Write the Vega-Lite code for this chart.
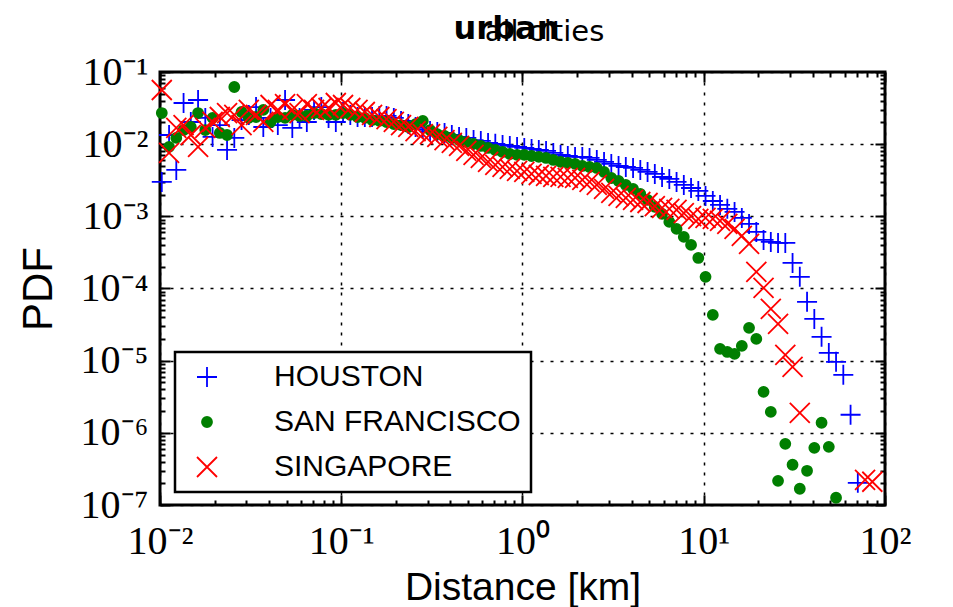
{
  "$schema": "https://vega.github.io/schema/vega-lite/v6.json",
  "width": 725,
  "height": 433,
  "autosize": {"type": "none"},
  "padding": {"left": 160, "top": 72, "right": 68, "bottom": 102},
  "background": "white",
  "title": {
    "text": "urban",
    "anchor": "middle",
    "dx": -16,
    "font": "DejaVu Sans",
    "fontSize": 32,
    "fontWeight": "bold",
    "color": "black",
    "offset": -29
  },
  "config": {
    "view": {"stroke": "black", "strokeWidth": 3},
    "legend": {"strokeWidth": 2.5}
  },
  "data": {
    "values": [
      {"city": "HOUSTON", "distance": 0.01023, "pdf": 3.00e-3},
      {"city": "HOUSTON", "distance": 0.01122, "pdf": 1.34e-2},
      {"city": "HOUSTON", "distance": 0.0123, "pdf": 4.39e-3},
      {"city": "HOUSTON", "distance": 0.01349, "pdf": 3.72e-2},
      {"city": "HOUSTON", "distance": 0.01479, "pdf": 2.03e-2},
      {"city": "HOUSTON", "distance": 0.01622, "pdf": 4.09e-2},
      {"city": "HOUSTON", "distance": 0.01778, "pdf": 2.31e-2},
      {"city": "HOUSTON", "distance": 0.0195, "pdf": 1.26e-2},
      {"city": "HOUSTON", "distance": 0.02138, "pdf": 1.84e-2},
      {"city": "HOUSTON", "distance": 0.02344, "pdf": 8.31e-3},
      {"city": "HOUSTON", "distance": 0.0257, "pdf": 1.22e-2},
      {"city": "HOUSTON", "distance": 0.02818, "pdf": 2.16e-2},
      {"city": "HOUSTON", "distance": 0.0309, "pdf": 2.54e-2},
      {"city": "HOUSTON", "distance": 0.03388, "pdf": 3.27e-2},
      {"city": "HOUSTON", "distance": 0.03715, "pdf": 1.73e-2},
      {"city": "HOUSTON", "distance": 0.04074, "pdf": 2.31e-2},
      {"city": "HOUSTON", "distance": 0.04467, "pdf": 1.84e-2},
      {"city": "HOUSTON", "distance": 0.04898, "pdf": 4.09e-2},
      {"city": "HOUSTON", "distance": 0.0537, "pdf": 1.68e-2},
      {"city": "HOUSTON", "distance": 0.05888, "pdf": 2.31e-2},
      {"city": "HOUSTON", "distance": 0.06457, "pdf": 2.03e-2},
      {"city": "HOUSTON", "distance": 0.07079, "pdf": 2.98e-2},
      {"city": "HOUSTON", "distance": 0.07762, "pdf": 3.27e-2},
      {"city": "HOUSTON", "distance": 0.08511, "pdf": 2.31e-2},
      {"city": "HOUSTON", "distance": 0.09333, "pdf": 2.03e-2},
      {"city": "HOUSTON", "distance": 0.1023, "pdf": 2.79e-2},
      {"city": "HOUSTON", "distance": 0.1122, "pdf": 2.54e-2},
      {"city": "HOUSTON", "distance": 0.123, "pdf": 2.38e-2},
      {"city": "HOUSTON", "distance": 0.1349, "pdf": 2.38e-2},
      {"city": "HOUSTON", "distance": 0.1479, "pdf": 2.38e-2},
      {"city": "HOUSTON", "distance": 0.1622, "pdf": 2.46e-2},
      {"city": "HOUSTON", "distance": 0.1778, "pdf": 2.46e-2},
      {"city": "HOUSTON", "distance": 0.195, "pdf": 2.31e-2},
      {"city": "HOUSTON", "distance": 0.2138, "pdf": 2.10e-2},
      {"city": "HOUSTON", "distance": 0.2344, "pdf": 1.90e-2},
      {"city": "HOUSTON", "distance": 0.257, "pdf": 1.73e-2},
      {"city": "HOUSTON", "distance": 0.2818, "pdf": 1.62e-2},
      {"city": "HOUSTON", "distance": 0.309, "pdf": 1.52e-2},
      {"city": "HOUSTON", "distance": 0.3388, "pdf": 1.48e-2},
      {"city": "HOUSTON", "distance": 0.3715, "pdf": 1.43e-2},
      {"city": "HOUSTON", "distance": 0.4074, "pdf": 1.34e-2},
      {"city": "HOUSTON", "distance": 0.4467, "pdf": 1.26e-2},
      {"city": "HOUSTON", "distance": 0.4898, "pdf": 1.22e-2},
      {"city": "HOUSTON", "distance": 0.537, "pdf": 1.14e-2},
      {"city": "HOUSTON", "distance": 0.5888, "pdf": 1.11e-2},
      {"city": "HOUSTON", "distance": 0.6457, "pdf": 1.04e-2},
      {"city": "HOUSTON", "distance": 0.7079, "pdf": 1.01e-2},
      {"city": "HOUSTON", "distance": 0.7762, "pdf": 9.75e-3},
      {"city": "HOUSTON", "distance": 0.8511, "pdf": 9.44e-3},
      {"city": "HOUSTON", "distance": 0.9333, "pdf": 9.15e-3},
      {"city": "HOUSTON", "distance": 1.023, "pdf": 8.86e-3},
      {"city": "HOUSTON", "distance": 1.122, "pdf": 8.58e-3},
      {"city": "HOUSTON", "distance": 1.23, "pdf": 8.31e-3},
      {"city": "HOUSTON", "distance": 1.349, "pdf": 8.05e-3},
      {"city": "HOUSTON", "distance": 1.479, "pdf": 7.55e-3},
      {"city": "HOUSTON", "distance": 1.622, "pdf": 7.09e-3},
      {"city": "HOUSTON", "distance": 1.778, "pdf": 6.86e-3},
      {"city": "HOUSTON", "distance": 1.95, "pdf": 6.65e-3},
      {"city": "HOUSTON", "distance": 2.138, "pdf": 6.65e-3},
      {"city": "HOUSTON", "distance": 2.344, "pdf": 6.44e-3},
      {"city": "HOUSTON", "distance": 2.57, "pdf": 6.04e-3},
      {"city": "HOUSTON", "distance": 2.818, "pdf": 5.67e-3},
      {"city": "HOUSTON", "distance": 3.09, "pdf": 5.32e-3},
      {"city": "HOUSTON", "distance": 3.388, "pdf": 4.99e-3},
      {"city": "HOUSTON", "distance": 3.715, "pdf": 4.83e-3},
      {"city": "HOUSTON", "distance": 4.074, "pdf": 4.68e-3},
      {"city": "HOUSTON", "distance": 4.467, "pdf": 4.39e-3},
      {"city": "HOUSTON", "distance": 4.898, "pdf": 4.12e-3},
      {"city": "HOUSTON", "distance": 5.37, "pdf": 3.87e-3},
      {"city": "HOUSTON", "distance": 5.888, "pdf": 3.51e-3},
      {"city": "HOUSTON", "distance": 6.457, "pdf": 3.30e-3},
      {"city": "HOUSTON", "distance": 7.079, "pdf": 3.00e-3},
      {"city": "HOUSTON", "distance": 7.762, "pdf": 2.72e-3},
      {"city": "HOUSTON", "distance": 8.511, "pdf": 2.47e-3},
      {"city": "HOUSTON", "distance": 9.333, "pdf": 2.25e-3},
      {"city": "HOUSTON", "distance": 10.23, "pdf": 1.92e-3},
      {"city": "HOUSTON", "distance": 11.22, "pdf": 1.63e-3},
      {"city": "HOUSTON", "distance": 12.3, "pdf": 1.44e-3},
      {"city": "HOUSTON", "distance": 13.49, "pdf": 1.27e-3},
      {"city": "HOUSTON", "distance": 14.79, "pdf": 1.15e-3},
      {"city": "HOUSTON", "distance": 16.22, "pdf": 9.50e-4},
      {"city": "HOUSTON", "distance": 17.78, "pdf": 7.85e-4},
      {"city": "HOUSTON", "distance": 19.5, "pdf": 6.08e-4},
      {"city": "HOUSTON", "distance": 21.38, "pdf": 4.71e-4},
      {"city": "HOUSTON", "distance": 23.44, "pdf": 4.42e-4},
      {"city": "HOUSTON", "distance": 25.7, "pdf": 4.28e-4},
      {"city": "HOUSTON", "distance": 28.18, "pdf": 4.28e-4},
      {"city": "HOUSTON", "distance": 30.9, "pdf": 2.26e-4},
      {"city": "HOUSTON", "distance": 33.88, "pdf": 1.45e-4},
      {"city": "HOUSTON", "distance": 37.15, "pdf": 6.53e-5},
      {"city": "HOUSTON", "distance": 40.74, "pdf": 3.79e-5},
      {"city": "HOUSTON", "distance": 44.67, "pdf": 2.14e-5},
      {"city": "HOUSTON", "distance": 48.98, "pdf": 1.28e-5},
      {"city": "HOUSTON", "distance": 53.7, "pdf": 9.63e-6},
      {"city": "HOUSTON", "distance": 58.88, "pdf": 6.36e-6},
      {"city": "HOUSTON", "distance": 64.57, "pdf": 1.78e-6},
      {"city": "HOUSTON", "distance": 70.79, "pdf": 2.03e-7},

      {"city": "SAN FRANCISCO", "distance": 0.01023, "pdf": 2.70e-2},
      {"city": "SAN FRANCISCO", "distance": 0.01122, "pdf": 9.15e-3},
      {"city": "SAN FRANCISCO", "distance": 0.0123, "pdf": 1.22e-2},
      {"city": "SAN FRANCISCO", "distance": 0.01349, "pdf": 1.57e-2},
      {"city": "SAN FRANCISCO", "distance": 0.01479, "pdf": 1.73e-2},
      {"city": "SAN FRANCISCO", "distance": 0.01622, "pdf": 2.70e-2},
      {"city": "SAN FRANCISCO", "distance": 0.01778, "pdf": 1.57e-2},
      {"city": "SAN FRANCISCO", "distance": 0.0195, "pdf": 2.31e-2},
      {"city": "SAN FRANCISCO", "distance": 0.02138, "pdf": 1.43e-2},
      {"city": "SAN FRANCISCO", "distance": 0.02344, "pdf": 1.34e-2},
      {"city": "SAN FRANCISCO", "distance": 0.0257, "pdf": 6.20e-2},
      {"city": "SAN FRANCISCO", "distance": 0.02818, "pdf": 2.79e-2},
      {"city": "SAN FRANCISCO", "distance": 0.0309, "pdf": 2.31e-2},
      {"city": "SAN FRANCISCO", "distance": 0.03388, "pdf": 2.38e-2},
      {"city": "SAN FRANCISCO", "distance": 0.03715, "pdf": 2.98e-2},
      {"city": "SAN FRANCISCO", "distance": 0.04074, "pdf": 2.03e-2},
      {"city": "SAN FRANCISCO", "distance": 0.04467, "pdf": 2.38e-2},
      {"city": "SAN FRANCISCO", "distance": 0.04898, "pdf": 2.31e-2},
      {"city": "SAN FRANCISCO", "distance": 0.0537, "pdf": 2.54e-2},
      {"city": "SAN FRANCISCO", "distance": 0.05888, "pdf": 2.46e-2},
      {"city": "SAN FRANCISCO", "distance": 0.06457, "pdf": 2.46e-2},
      {"city": "SAN FRANCISCO", "distance": 0.07079, "pdf": 2.70e-2},
      {"city": "SAN FRANCISCO", "distance": 0.07762, "pdf": 2.62e-2},
      {"city": "SAN FRANCISCO", "distance": 0.08511, "pdf": 2.54e-2},
      {"city": "SAN FRANCISCO", "distance": 0.09333, "pdf": 2.54e-2},
      {"city": "SAN FRANCISCO", "distance": 0.1023, "pdf": 2.70e-2},
      {"city": "SAN FRANCISCO", "distance": 0.1122, "pdf": 2.54e-2},
      {"city": "SAN FRANCISCO", "distance": 0.123, "pdf": 2.38e-2},
      {"city": "SAN FRANCISCO", "distance": 0.1349, "pdf": 2.31e-2},
      {"city": "SAN FRANCISCO", "distance": 0.1479, "pdf": 2.16e-2},
      {"city": "SAN FRANCISCO", "distance": 0.1622, "pdf": 2.10e-2},
      {"city": "SAN FRANCISCO", "distance": 0.1778, "pdf": 2.03e-2},
      {"city": "SAN FRANCISCO", "distance": 0.195, "pdf": 1.90e-2},
      {"city": "SAN FRANCISCO", "distance": 0.2138, "pdf": 1.84e-2},
      {"city": "SAN FRANCISCO", "distance": 0.2344, "pdf": 1.73e-2},
      {"city": "SAN FRANCISCO", "distance": 0.257, "pdf": 1.90e-2},
      {"city": "SAN FRANCISCO", "distance": 0.2818, "pdf": 2.10e-2},
      {"city": "SAN FRANCISCO", "distance": 0.309, "pdf": 1.57e-2},
      {"city": "SAN FRANCISCO", "distance": 0.3388, "pdf": 1.38e-2},
      {"city": "SAN FRANCISCO", "distance": 0.3715, "pdf": 1.30e-2},
      {"city": "SAN FRANCISCO", "distance": 0.4074, "pdf": 1.22e-2},
      {"city": "SAN FRANCISCO", "distance": 0.4467, "pdf": 1.14e-2},
      {"city": "SAN FRANCISCO", "distance": 0.4898, "pdf": 1.07e-2},
      {"city": "SAN FRANCISCO", "distance": 0.537, "pdf": 1.01e-2},
      {"city": "SAN FRANCISCO", "distance": 0.5888, "pdf": 9.44e-3},
      {"city": "SAN FRANCISCO", "distance": 0.6457, "pdf": 8.86e-3},
      {"city": "SAN FRANCISCO", "distance": 0.7079, "pdf": 8.31e-3},
      {"city": "SAN FRANCISCO", "distance": 0.7762, "pdf": 7.80e-3},
      {"city": "SAN FRANCISCO", "distance": 0.8511, "pdf": 7.31e-3},
      {"city": "SAN FRANCISCO", "distance": 0.9333, "pdf": 7.09e-3},
      {"city": "SAN FRANCISCO", "distance": 1.023, "pdf": 7.09e-3},
      {"city": "SAN FRANCISCO", "distance": 1.122, "pdf": 6.86e-3},
      {"city": "SAN FRANCISCO", "distance": 1.23, "pdf": 6.65e-3},
      {"city": "SAN FRANCISCO", "distance": 1.349, "pdf": 6.44e-3},
      {"city": "SAN FRANCISCO", "distance": 1.479, "pdf": 6.04e-3},
      {"city": "SAN FRANCISCO", "distance": 1.622, "pdf": 5.67e-3},
      {"city": "SAN FRANCISCO", "distance": 1.778, "pdf": 5.49e-3},
      {"city": "SAN FRANCISCO", "distance": 1.95, "pdf": 5.32e-3},
      {"city": "SAN FRANCISCO", "distance": 2.138, "pdf": 4.99e-3},
      {"city": "SAN FRANCISCO", "distance": 2.344, "pdf": 4.83e-3},
      {"city": "SAN FRANCISCO", "distance": 2.57, "pdf": 4.68e-3},
      {"city": "SAN FRANCISCO", "distance": 2.818, "pdf": 4.12e-3},
      {"city": "SAN FRANCISCO", "distance": 3.09, "pdf": 3.40e-3},
      {"city": "SAN FRANCISCO", "distance": 3.388, "pdf": 3.09e-3},
      {"city": "SAN FRANCISCO", "distance": 3.715, "pdf": 2.72e-3},
      {"city": "SAN FRANCISCO", "distance": 4.074, "pdf": 2.40e-3},
      {"city": "SAN FRANCISCO", "distance": 4.467, "pdf": 2.04e-3},
      {"city": "SAN FRANCISCO", "distance": 4.898, "pdf": 1.69e-3},
      {"city": "SAN FRANCISCO", "distance": 5.37, "pdf": 1.35e-3},
      {"city": "SAN FRANCISCO", "distance": 5.888, "pdf": 1.08e-3},
      {"city": "SAN FRANCISCO", "distance": 6.457, "pdf": 8.37e-4},
      {"city": "SAN FRANCISCO", "distance": 7.079, "pdf": 6.69e-4},
      {"city": "SAN FRANCISCO", "distance": 7.762, "pdf": 5.18e-4},
      {"city": "SAN FRANCISCO", "distance": 8.511, "pdf": 4.02e-4},
      {"city": "SAN FRANCISCO", "distance": 9.333, "pdf": 2.65e-4},
      {"city": "SAN FRANCISCO", "distance": 10.23, "pdf": 1.45e-4},
      {"city": "SAN FRANCISCO", "distance": 11.22, "pdf": 4.31e-5},
      {"city": "SAN FRANCISCO", "distance": 12.3, "pdf": 1.46e-5},
      {"city": "SAN FRANCISCO", "distance": 13.49, "pdf": 1.32e-5},
      {"city": "SAN FRANCISCO", "distance": 14.79, "pdf": 1.24e-5},
      {"city": "SAN FRANCISCO", "distance": 16.22, "pdf": 1.60e-5},
      {"city": "SAN FRANCISCO", "distance": 17.78, "pdf": 2.85e-5},
      {"city": "SAN FRANCISCO", "distance": 19.5, "pdf": 2.00e-5},
      {"city": "SAN FRANCISCO", "distance": 21.38, "pdf": 3.70e-6},
      {"city": "SAN FRANCISCO", "distance": 23.44, "pdf": 1.95e-6},
      {"city": "SAN FRANCISCO", "distance": 25.7, "pdf": 2.16e-7},
      {"city": "SAN FRANCISCO", "distance": 28.18, "pdf": 7.04e-7},
      {"city": "SAN FRANCISCO", "distance": 30.9, "pdf": 3.61e-7},
      {"city": "SAN FRANCISCO", "distance": 33.88, "pdf": 1.68e-7},
      {"city": "SAN FRANCISCO", "distance": 37.15, "pdf": 2.98e-7},
      {"city": "SAN FRANCISCO", "distance": 40.74, "pdf": 6.20e-7},
      {"city": "SAN FRANCISCO", "distance": 44.67, "pdf": 1.38e-6},
      {"city": "SAN FRANCISCO", "distance": 48.98, "pdf": 6.40e-7},
      {"city": "SAN FRANCISCO", "distance": 53.7, "pdf": 1.26e-7},

      {"city": "SINGAPORE", "distance": 0.01023, "pdf": 5.63e-2},
      {"city": "SINGAPORE", "distance": 0.01122, "pdf": 7.55e-3},
      {"city": "SINGAPORE", "distance": 0.0123, "pdf": 1.68e-2},
      {"city": "SINGAPORE", "distance": 0.01349, "pdf": 1.84e-2},
      {"city": "SINGAPORE", "distance": 0.01479, "pdf": 1.34e-2},
      {"city": "SINGAPORE", "distance": 0.01622, "pdf": 9.15e-3},
      {"city": "SINGAPORE", "distance": 0.01778, "pdf": 1.68e-2},
      {"city": "SINGAPORE", "distance": 0.0195, "pdf": 2.03e-2},
      {"city": "SINGAPORE", "distance": 0.02138, "pdf": 2.38e-2},
      {"city": "SINGAPORE", "distance": 0.02344, "pdf": 2.70e-2},
      {"city": "SINGAPORE", "distance": 0.0257, "pdf": 2.54e-2},
      {"city": "SINGAPORE", "distance": 0.02818, "pdf": 1.84e-2},
      {"city": "SINGAPORE", "distance": 0.0309, "pdf": 2.98e-2},
      {"city": "SINGAPORE", "distance": 0.03388, "pdf": 2.54e-2},
      {"city": "SINGAPORE", "distance": 0.03715, "pdf": 2.03e-2},
      {"city": "SINGAPORE", "distance": 0.04074, "pdf": 3.49e-2},
      {"city": "SINGAPORE", "distance": 0.04467, "pdf": 2.98e-2},
      {"city": "SINGAPORE", "distance": 0.04898, "pdf": 3.60e-2},
      {"city": "SINGAPORE", "distance": 0.0537, "pdf": 2.98e-2},
      {"city": "SINGAPORE", "distance": 0.05888, "pdf": 2.70e-2},
      {"city": "SINGAPORE", "distance": 0.06457, "pdf": 3.60e-2},
      {"city": "SINGAPORE", "distance": 0.07079, "pdf": 2.98e-2},
      {"city": "SINGAPORE", "distance": 0.07762, "pdf": 3.17e-2},
      {"city": "SINGAPORE", "distance": 0.08511, "pdf": 3.17e-2},
      {"city": "SINGAPORE", "distance": 0.09333, "pdf": 3.72e-2},
      {"city": "SINGAPORE", "distance": 0.1023, "pdf": 3.49e-2},
      {"city": "SINGAPORE", "distance": 0.1122, "pdf": 3.17e-2},
      {"city": "SINGAPORE", "distance": 0.123, "pdf": 2.98e-2},
      {"city": "SINGAPORE", "distance": 0.1349, "pdf": 2.79e-2},
      {"city": "SINGAPORE", "distance": 0.1479, "pdf": 2.54e-2},
      {"city": "SINGAPORE", "distance": 0.1622, "pdf": 2.38e-2},
      {"city": "SINGAPORE", "distance": 0.1778, "pdf": 2.23e-2},
      {"city": "SINGAPORE", "distance": 0.195, "pdf": 2.03e-2},
      {"city": "SINGAPORE", "distance": 0.2138, "pdf": 1.84e-2},
      {"city": "SINGAPORE", "distance": 0.2344, "pdf": 1.73e-2},
      {"city": "SINGAPORE", "distance": 0.257, "pdf": 1.52e-2},
      {"city": "SINGAPORE", "distance": 0.2818, "pdf": 1.38e-2},
      {"city": "SINGAPORE", "distance": 0.309, "pdf": 1.38e-2},
      {"city": "SINGAPORE", "distance": 0.3388, "pdf": 1.26e-2},
      {"city": "SINGAPORE", "distance": 0.3715, "pdf": 1.14e-2},
      {"city": "SINGAPORE", "distance": 0.4074, "pdf": 1.04e-2},
      {"city": "SINGAPORE", "distance": 0.4467, "pdf": 9.44e-3},
      {"city": "SINGAPORE", "distance": 0.4898, "pdf": 8.05e-3},
      {"city": "SINGAPORE", "distance": 0.537, "pdf": 7.09e-3},
      {"city": "SINGAPORE", "distance": 0.5888, "pdf": 6.44e-3},
      {"city": "SINGAPORE", "distance": 0.6457, "pdf": 5.67e-3},
      {"city": "SINGAPORE", "distance": 0.7079, "pdf": 5.15e-3},
      {"city": "SINGAPORE", "distance": 0.7762, "pdf": 4.83e-3},
      {"city": "SINGAPORE", "distance": 0.8511, "pdf": 4.53e-3},
      {"city": "SINGAPORE", "distance": 0.9333, "pdf": 4.25e-3},
      {"city": "SINGAPORE", "distance": 1.023, "pdf": 4.12e-3},
      {"city": "SINGAPORE", "distance": 1.122, "pdf": 3.87e-3},
      {"city": "SINGAPORE", "distance": 1.23, "pdf": 3.74e-3},
      {"city": "SINGAPORE", "distance": 1.349, "pdf": 3.63e-3},
      {"city": "SINGAPORE", "distance": 1.479, "pdf": 3.51e-3},
      {"city": "SINGAPORE", "distance": 1.622, "pdf": 3.51e-3},
      {"city": "SINGAPORE", "distance": 1.778, "pdf": 3.40e-3},
      {"city": "SINGAPORE", "distance": 1.95, "pdf": 3.40e-3},
      {"city": "SINGAPORE", "distance": 2.138, "pdf": 3.19e-3},
      {"city": "SINGAPORE", "distance": 2.344, "pdf": 3.00e-3},
      {"city": "SINGAPORE", "distance": 2.57, "pdf": 2.72e-3},
      {"city": "SINGAPORE", "distance": 2.818, "pdf": 2.40e-3},
      {"city": "SINGAPORE", "distance": 3.09, "pdf": 2.11e-3},
      {"city": "SINGAPORE", "distance": 3.388, "pdf": 1.92e-3},
      {"city": "SINGAPORE", "distance": 3.715, "pdf": 1.80e-3},
      {"city": "SINGAPORE", "distance": 4.074, "pdf": 1.69e-3},
      {"city": "SINGAPORE", "distance": 4.467, "pdf": 1.58e-3},
      {"city": "SINGAPORE", "distance": 4.898, "pdf": 1.53e-3},
      {"city": "SINGAPORE", "distance": 5.37, "pdf": 1.39e-3},
      {"city": "SINGAPORE", "distance": 5.888, "pdf": 1.31e-3},
      {"city": "SINGAPORE", "distance": 6.457, "pdf": 1.27e-3},
      {"city": "SINGAPORE", "distance": 7.079, "pdf": 1.23e-3},
      {"city": "SINGAPORE", "distance": 7.762, "pdf": 1.11e-3},
      {"city": "SINGAPORE", "distance": 8.511, "pdf": 1.01e-3},
      {"city": "SINGAPORE", "distance": 9.333, "pdf": 9.20e-4},
      {"city": "SINGAPORE", "distance": 10.23, "pdf": 9.50e-4},
      {"city": "SINGAPORE", "distance": 11.22, "pdf": 9.20e-4},
      {"city": "SINGAPORE", "distance": 12.3, "pdf": 8.64e-4},
      {"city": "SINGAPORE", "distance": 13.49, "pdf": 7.85e-4},
      {"city": "SINGAPORE", "distance": 14.79, "pdf": 6.69e-4},
      {"city": "SINGAPORE", "distance": 16.22, "pdf": 5.35e-4},
      {"city": "SINGAPORE", "distance": 17.78, "pdf": 4.15e-4},
      {"city": "SINGAPORE", "distance": 19.5, "pdf": 1.70e-4},
      {"city": "SINGAPORE", "distance": 21.38, "pdf": 1.02e-4},
      {"city": "SINGAPORE", "distance": 23.44, "pdf": 5.22e-5},
      {"city": "SINGAPORE", "distance": 25.7, "pdf": 3.23e-5},
      {"city": "SINGAPORE", "distance": 28.18, "pdf": 1.20e-5},
      {"city": "SINGAPORE", "distance": 30.9, "pdf": 8.21e-6},
      {"city": "SINGAPORE", "distance": 33.88, "pdf": 1.89e-6},
      {"city": "SINGAPORE", "distance": 77.62, "pdf": 2.23e-7},
      {"city": "SINGAPORE", "distance": 85.11, "pdf": 2.10e-7}
    ]
  },
  "layer": [
    {
      "mark": {"type": "point", "filled": true, "opacity": 1, "size": 100, "strokeWidth": 1.8},
      "encoding": {
        "x": {
          "field": "distance",
          "type": "quantitative",
          "scale": {"type": "log", "domain": [0.01, 100], "nice": false},
          "axis": {
            "orient": "bottom",
            "values": [0.01, 0.02, 0.03, 0.04, 0.05, 0.06, 0.07, 0.08, 0.09, 0.1, 0.2, 0.3, 0.4, 0.5, 0.6, 0.7, 0.8, 0.9, 1, 2, 3, 4, 5, 6, 7, 8, 9, 10, 20, 30, 40, 50, 60, 70, 80, 90, 100],
            "labelExpr": "abs(log(datum.value)/LN10 - round(log(datum.value)/LN10)) < 1e-6 ? '10' + ['⁻⁷','⁻⁶','⁻⁵','⁻⁴','⁻³','⁻²','⁻¹','⁰','¹','²'][round(log(datum.value)/LN10) + 7] : ''",
            "labelFont": "Liberation Serif",
            "labelFontSize": 40,
            "labelColor": "black",
            "labelPadding": 26,
            "labelFlush": false,
            "labelOverlap": false,
            "labelBound": false,
            "tickColor": "black",
            "tickWidth": 2,
            "tickSize": {"condition": {"test": "abs(log(datum.value)/LN10 - round(log(datum.value)/LN10)) < 1e-6", "value": -10}, "value": -5},
            "grid": true,
            "gridColor": "black",
            "gridWidth": 1.5,
            "gridDash": [3, 7],
            "gridOpacity": {"condition": {"test": "abs(log(datum.value)/LN10 - round(log(datum.value)/LN10)) < 1e-6", "value": 1}, "value": 0},
            "domain": false,
            "title": "Distance [km]",
            "titleFont": "Liberation Sans",
            "titleFontSize": 39,
            "titleFontWeight": "normal",
            "titleColor": "black",
            "titlePadding": 2
          }
        },
        "y": {
          "field": "pdf",
          "type": "quantitative",
          "scale": {"type": "log", "domain": [1e-7, 0.1], "nice": false},
          "axis": {
            "orient": "left",
            "values": [1e-7, 2e-7, 3e-7, 4e-7, 5e-7, 6e-7, 7e-7, 8e-7, 9e-7, 1e-6, 2e-6, 3e-6, 4e-6, 5e-6, 6e-6, 7e-6, 8e-6, 9e-6, 1e-5, 2e-5, 3e-5, 4e-5, 5e-5, 6e-5, 7e-5, 8e-5, 9e-5, 1e-4, 2e-4, 3e-4, 4e-4, 5e-4, 6e-4, 7e-4, 8e-4, 9e-4, 0.001, 0.002, 0.003, 0.004, 0.005, 0.006, 0.007, 0.008, 0.009, 0.01, 0.02, 0.03, 0.04, 0.05, 0.06, 0.07, 0.08, 0.09, 0.1],
            "labelExpr": "abs(log(datum.value)/LN10 - round(log(datum.value)/LN10)) < 1e-6 ? '10' + ['⁻⁷','⁻⁶','⁻⁵','⁻⁴','⁻³','⁻²','⁻¹','⁰','¹','²'][round(log(datum.value)/LN10) + 7] : ''",
            "labelFont": "Liberation Serif",
            "labelFontSize": 40,
            "labelColor": "black",
            "labelPadding": 22,
            "labelFlush": false,
            "labelOverlap": false,
            "labelBound": false,
            "tickColor": "black",
            "tickWidth": 2,
            "tickSize": {"condition": {"test": "abs(log(datum.value)/LN10 - round(log(datum.value)/LN10)) < 1e-6", "value": -10}, "value": -5},
            "grid": true,
            "gridColor": "black",
            "gridWidth": 1.5,
            "gridDash": [3, 7],
            "gridOpacity": {"condition": {"test": "abs(log(datum.value)/LN10 - round(log(datum.value)/LN10)) < 1e-6", "value": 1}, "value": 0},
            "domain": false,
            "title": "PDF",
            "titleFont": "Liberation Sans",
            "titleFontSize": 42,
            "titleFontWeight": "normal",
            "titleColor": "black",
            "titlePadding": 20
          }
        },
        "color": {
          "field": "city",
          "type": "nominal",
          "scale": {"domain": ["HOUSTON", "SAN FRANCISCO", "SINGAPORE"], "range": ["#0000ff", "#007f00", "#ff0000"]},
          "legend": {
            "orient": "none",
            "legendX": 15,
            "legendY": 280,
            "title": null,
            "labelFont": "Liberation Sans",
            "labelFontSize": 30,
            "labelColor": "black",
            "labelLimit": 400,
            "strokeColor": "black",
            "fillColor": "white",
            "cornerRadius": 0,
            "padding": 10,
            "rowPadding": 15,
            "symbolSize": 100,
            "symbolStrokeWidth": 1.8,
            "symbolOffset": 7,
            "labelOffset": 52
          }
        },
        "stroke": {
          "field": "city",
          "type": "nominal",
          "scale": {"domain": ["HOUSTON", "SAN FRANCISCO", "SINGAPORE"], "range": ["#0000ff", "#007f00", "#ff0000"]}
        },
        "shape": {
          "field": "city",
          "type": "nominal",
          "scale": {"domain": ["HOUSTON", "SAN FRANCISCO", "SINGAPORE"], "range": ["M-2,0H2M0,-2V2", "circle", "M-2,-2L2,2M-2,2L2,-2"]}
        }
      }
    },
    {
      "mark": {"type": "point", "opacity": 0},
      "encoding": {
        "x": {
          "field": "distance",
          "type": "quantitative",
          "axis": {
            "orient": "top",
            "values": [0.01, 0.02, 0.03, 0.04, 0.05, 0.06, 0.07, 0.08, 0.09, 0.1, 0.2, 0.3, 0.4, 0.5, 0.6, 0.7, 0.8, 0.9, 1, 2, 3, 4, 5, 6, 7, 8, 9, 10, 20, 30, 40, 50, 60, 70, 80, 90, 100],
            "labels": false,
            "tickColor": "black",
            "tickWidth": 2,
            "tickSize": {"condition": {"test": "abs(log(datum.value)/LN10 - round(log(datum.value)/LN10)) < 1e-6", "value": -10}, "value": -5},
            "grid": false,
            "domain": false,
            "title": "all cities",
            "titleFont": "DejaVu Sans",
            "titleFontSize": 29,
            "titleFontWeight": "normal",
            "titleColor": "black",
            "titleX": 384,
            "titleY": -32,
            "titleAlign": "center",
            "titleBaseline": "alphabetic"
          }
        },
        "y": {
          "field": "pdf",
          "type": "quantitative",
          "axis": {
            "orient": "right",
            "values": [1e-7, 2e-7, 3e-7, 4e-7, 5e-7, 6e-7, 7e-7, 8e-7, 9e-7, 1e-6, 2e-6, 3e-6, 4e-6, 5e-6, 6e-6, 7e-6, 8e-6, 9e-6, 1e-5, 2e-5, 3e-5, 4e-5, 5e-5, 6e-5, 7e-5, 8e-5, 9e-5, 1e-4, 2e-4, 3e-4, 4e-4, 5e-4, 6e-4, 7e-4, 8e-4, 9e-4, 0.001, 0.002, 0.003, 0.004, 0.005, 0.006, 0.007, 0.008, 0.009, 0.01, 0.02, 0.03, 0.04, 0.05, 0.06, 0.07, 0.08, 0.09, 0.1],
            "labels": false,
            "tickColor": "black",
            "tickWidth": 2,
            "tickSize": {"condition": {"test": "abs(log(datum.value)/LN10 - round(log(datum.value)/LN10)) < 1e-6", "value": -10}, "value": -5},
            "grid": false,
            "domain": false,
            "title": null
          }
        }
      }
    }
  ],
  "resolve": {"axis": {"x": "independent", "y": "independent"}}
}
